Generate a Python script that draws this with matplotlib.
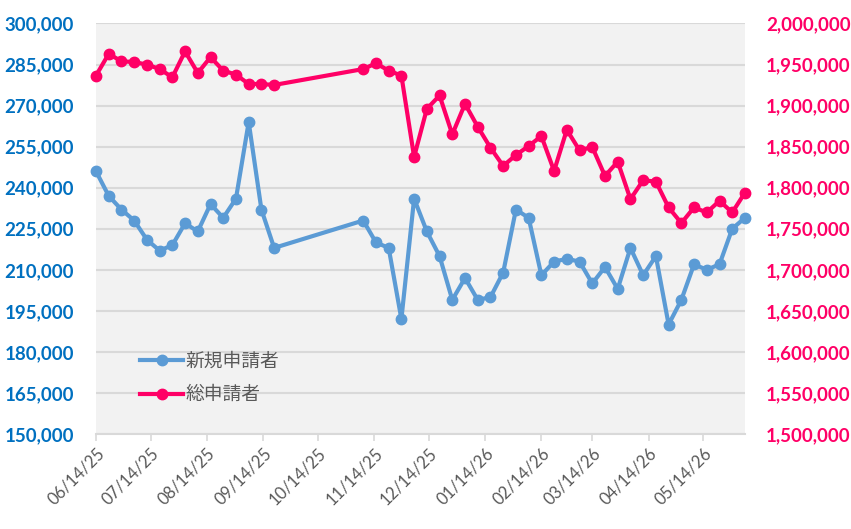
import matplotlib
matplotlib.use("Agg")
import matplotlib.pyplot as plt
import matplotlib.dates as mdates
import matplotlib.ticker as mticker
import numpy as np
import pandas as pd

# ---- data ----
week_index = list(range(0, 15)) + list(range(21, 52))
dates = [pd.Timestamp("2025-06-14") + pd.Timedelta(days=7 * k) for k in week_index]

new_applicants = [
    246000, 237000, 232000, 228000, 221000, 217000, 219000, 227000, 224000, 234000,
    229000, 236000, 264000, 232000, 218000,
    228000, 220000, 218000, 192000, 236000, 224000, 215000, 199000, 207000, 199000,
    200000, 209000, 232000, 229000, 208000, 213000, 214000, 213000, 205000, 211000,
    203000, 218000, 208000, 215000, 190000, 199000, 212000, 210000, 212000, 225000,
    229000,
]
total_applicants = [
    1936500, 1963000, 1954000, 1953000, 1950000, 1944500, 1934500, 1966000, 1939700, 1959000,
    1942600, 1937700, 1926300, 1926300, 1925100,
    1944500, 1951500, 1942600, 1936500, 1837400, 1896000, 1912300, 1864900, 1902100, 1874200,
    1848700, 1826500, 1839800, 1850700, 1862900, 1820400, 1870500, 1845500, 1849500, 1814300,
    1831700, 1786000, 1809100, 1807400, 1775900, 1756900, 1775900, 1769800, 1784000, 1769800,
    1794000,
]
series_names = ["新規申請者", "総申請者"]
tick_dates = pd.date_range("2025-06-01", periods=12, freq="MS") + pd.Timedelta(days=13)

left_ticks = list(range(150000, 300001, 15000))
right_ticks = list(range(1500000, 2000001, 50000))

BLUE = "#5B9BD5"
PINK = "#FF0066"
LBLUE = "#0070C0"
GRID = "#D9D9D9"
GRAYTXT = "#595959"

fig = plt.figure(figsize=(8.51, 5.29), dpi=100)
ax = fig.add_axes([0.1128, 0.1796, 0.8754 - 0.1128, 0.9556 - 0.1796])
ax.set_facecolor("#F2F2F2")
ax2 = ax.twinx()

l1, = ax.plot(dates, new_applicants, color=BLUE, lw=3.0, marker="o", ms=7.5,
              clip_on=False, zorder=3, label=series_names[0])
l2, = ax2.plot(dates, total_applicants, color=PINK, lw=3.0, marker="o", ms=7.5,
               clip_on=False, zorder=3, label=series_names[1])

ax.set_ylim(150000, 300000)
ax2.set_ylim(1500000, 2000000)
ax.set_xlim(dates[0], dates[-1])

ax.set_yticks(left_ticks)
ax2.set_yticks(right_ticks)
fmt = mticker.FuncFormatter(lambda v, p: f"{int(v):,}")
ax.yaxis.set_major_formatter(fmt)
ax2.yaxis.set_major_formatter(fmt)

ax.yaxis.grid(True, color=GRID, lw=1.5)
ax.set_axisbelow(True)

for a in (ax, ax2):
    for s in a.spines.values():
        s.set_visible(False)
ax.spines["bottom"].set_visible(True)
ax.spines["bottom"].set_color(GRID)
ax.spines["bottom"].set_linewidth(1.5)

ax.tick_params(axis="y", length=0, pad=16, labelcolor=LBLUE)
ax2.tick_params(axis="y", length=0, pad=15, labelcolor=PINK)
for lab in ax.get_yticklabels():
    lab.set_fontfamily("Lato"); lab.set_fontweight("bold"); lab.set_fontsize(13.5)
for lab in ax2.get_yticklabels():
    lab.set_fontfamily("Lato"); lab.set_fontweight("bold"); lab.set_fontsize(13.5)

ax.set_xticks(tick_dates)
ax.xaxis.set_major_formatter(mdates.DateFormatter("%m/%d/%y"))
ax.tick_params(axis="x", length=5, width=1.2, color=GRID, pad=3, labelcolor=GRAYTXT)
for lab in ax.get_xticklabels():
    lab.set_fontfamily("Lato"); lab.set_fontsize(12)
    lab.set_rotation(45); lab.set_ha("right"); lab.set_va("top")
    lab.set_rotation_mode("anchor")

leg = ax2.legend(handles=[l1, l2], loc="center left",
                 bbox_to_anchor=((140 - 96) / 649, (434 - 378) / 410),
                 frameon=False, borderaxespad=0, borderpad=0,
                 handlelength=2.3, handletextpad=0.15, labelspacing=0.68,
                 prop={"family": ["Noto Sans CJK JP", "DejaVu Sans"], "size": 13.5})
for t in leg.get_texts():
    t.set_color(GRAYTXT)

fig.savefig("out.png", dpi=100, facecolor="white")
